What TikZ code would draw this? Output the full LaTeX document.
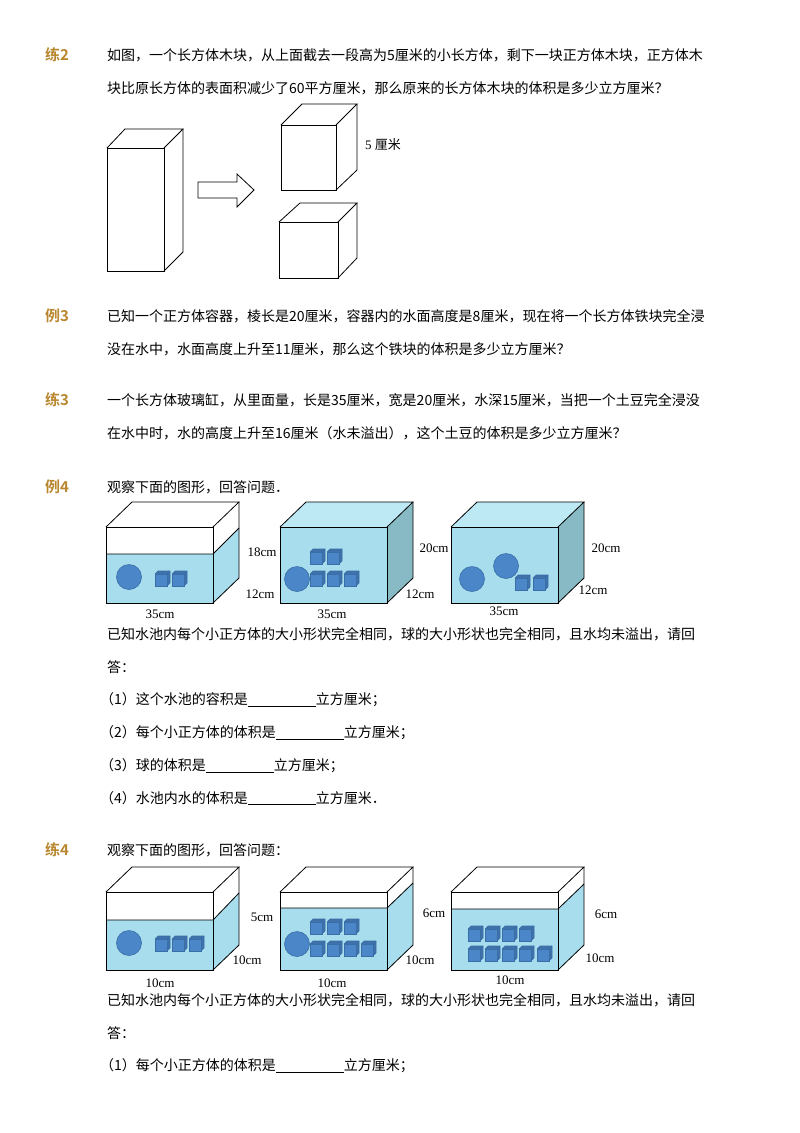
\documentclass[tikz,border=0pt]{standalone}
\usepackage{fontspec}
\setmainfont{Liberation Serif}
\newfontfamily\cjk{Noto Sans CJK SC}
\newfontfamily\cjkb{Noto Sans CJK SC}[BoldFont={* Bold}]
\definecolor{hdr}{HTML}{B8872E}
\definecolor{wfront}{HTML}{A8DDEE}
\definecolor{wtop}{HTML}{BDE9F5}
\definecolor{wside}{HTML}{88BAC6}
\definecolor{ballc}{HTML}{4A86C8}
\definecolor{balle}{HTML}{3A6EA6}
\newcommand{\blank}{\underline{\hspace{68pt}}}
\newcommand{\mytank}[5]{%
  \fill[wfront] (#1,#4) rectangle (#1+107,#3);
  \fill[wfront] (#1+107,#4) -- (#1+133,#5) -- (#1+133,#3-25) -- (#1+107,#3) -- cycle;
  \draw[thick] (#1,#4) -- (#1+107,#4) -- (#1+133,#5);
  \draw[thick] (#1,#2) rectangle (#1+107,#3);
  \draw[thick] (#1,#2) -- (#1+26,#2-25) -- (#1+133,#2-25) -- (#1+107,#2);
  \draw[thick] (#1+133,#2-25) -- (#1+133,#3-25) -- (#1+107,#3);
}
\newcommand{\fulltank}[3]{%
  \fill[wfront] (#1,#2) rectangle (#1+107,#3);
  \fill[wtop] (#1,#2) -- (#1+26,#2-25) -- (#1+133,#2-25) -- (#1+107,#2) -- cycle;
  \fill[wside] (#1+107,#2) -- (#1+133,#2-25) -- (#1+133,#3-25) -- (#1+107,#3) -- cycle;
  \draw[thick] (#1,#2) rectangle (#1+107,#3);
  \draw[thick] (#1,#2) -- (#1+26,#2-25) -- (#1+133,#2-25) -- (#1+107,#2);
  \draw[thick] (#1+133,#2-25) -- (#1+133,#3-25) -- (#1+107,#3);
}
\newcommand{\scube}[2]{%
  \fill[ballc!85!black] (#1-6,#2-6) -- (#1-3,#2-9) -- (#1+9,#2-9) -- (#1+9,#2+3) -- (#1+6,#2+6) -- (#1+6,#2-6) -- cycle;
  \draw[balle,line width=0.6pt] (#1-6,#2-6) -- (#1-3,#2-9) -- (#1+9,#2-9) -- (#1+9,#2+3) -- (#1+6,#2+6);
  \draw[balle,line width=0.6pt] (#1+6,#2-6) -- (#1+9,#2-9);
  \filldraw[fill=ballc,draw=balle,line width=0.6pt] (#1-6,#2-6) rectangle (#1+6,#2+6);
}
\newcommand{\ball}[2]{\filldraw[fill=ballc,draw=balle,line width=0.6pt] (#1,#2) circle (12.5);}
\begin{document}
\begin{tikzpicture}[x=1pt,y=-1pt,
  txt/.style={anchor=west,inner sep=0,font=\cjk\fontsize{14}{14}\selectfont},
  hd/.style={anchor=west,inner sep=0,text=hdr,font=\cjkb\bfseries\fontsize{15}{15}\selectfont},
  lab/.style={inner sep=0,font=\fontsize{13}{13}\selectfont},
  box/.style={thick}]
\useasboundingbox[fill=white] (0,0) rectangle (800,1133);
\node[hd] (h1) at (45,55) {练2};
\node[txt] (t1a) at (107,55) {如图，一个长方体木块，从上面截去一段高为5厘米的小长方体，剩下一块正方体木块，正方体木};
\node[txt] (t1b) at (107,88) {块比原长方体的表面积减少了60平方厘米，那么原来的长方体木块的体积是多少立方厘米？};
\draw[box] (107,148) rectangle (164,271);
\draw[box] (107,148) -- (125,129) -- (183,129) -- (164,148);
\draw[box] (183,129) -- (183,252) -- (164,271);
\draw[box,line width=0.8pt] (198,182) -- (237,182) -- (237,174) -- (254,190) -- (237,207) -- (237,198) -- (198,198) -- cycle;
\draw[box] (281,125) rectangle (336,190);
\draw[box] (281,125) -- (302,104) -- (357,104) -- (336,125);
\draw[box] (357,104) -- (357,170) -- (336,190);
\node[inner sep=0,anchor=west,font=\fontsize{13}{13}\selectfont] (l5) at (365,145) {5 {\cjk 厘米}};
\draw[box] (279,222) rectangle (338,278);
\draw[box] (279,222) -- (300,203) -- (357,203) -- (338,222);
\draw[box] (357,203) -- (357,258) -- (338,278);
\node[hd] (h2) at (45,316) {例3};
\node[txt] (t2a) at (107,316) {已知一个正方体容器，棱长是20厘米，容器内的水面高度是8厘米，现在将一个长方体铁块完全浸};
\node[txt] (t2b) at (107,349) {没在水中，水面高度上升至11厘米，那么这个铁块的体积是多少立方厘米？};
\node[hd] (h3) at (45,400) {练3};
\node[txt] (t3a) at (107,400) {一个长方体玻璃缸，从里面量，长是35厘米，宽是20厘米，水深15厘米，当把一个土豆完全浸没};
\node[txt] (t3b) at (107,433) {在水中时，水的高度上升至16厘米（水未溢出），这个土豆的体积是多少立方厘米？};
\node[hd] (h4) at (45,487) {例4};
\node[txt] (t4a) at (107,487) {观察下面的图形，回答问题．};
\mytank{106}{527}{603}{554}{528}
\ball{129}{577}
\scube{161}{580} \scube{178}{580}
\node[lab] (a1) at (262,552) {18cm};
\node[lab] (a2) at (260,594) {12cm};
\node[lab] (a3) at (160,614) {35cm};
\fulltank{280}{527}{603}
\ball{297}{579}
\scube{316}{558} \scube{333}{558}
\scube{316}{580} \scube{333}{580} \scube{350}{580}
\node[lab] (b1) at (434,548) {20cm};
\node[lab] (b2) at (420,594) {12cm};
\node[lab] (b3) at (332,614) {35cm};
\fulltank{451}{527}{603}
\ball{472}{579} \ball{506}{566}
\scube{521}{584} \scube{539}{584}
\node[lab] (c1) at (606,548) {20cm};
\node[lab] (c2) at (593,590) {12cm};
\node[lab] (c3) at (504,611) {35cm};
\node[txt] (t4b) at (107,634) {已知水池内每个小正方体的大小形状完全相同，球的大小形状也完全相同，且水均未溢出，请回};
\node[txt] (t4c) at (107,667) {答：};
\node[txt] (q1) at (100,700) {（1）这个水池的容积是\blank 立方厘米；};
\node[txt] (q2) at (100,733) {（2）每个小正方体的体积是\blank 立方厘米；};
\node[txt] (q3) at (100,766) {（3）球的体积是\blank 立方厘米；};
\node[txt] (q4) at (100,798) {（4）水池内水的体积是\blank 立方厘米．};
\node[hd] (h5) at (45,850) {练4};
\node[txt] (t5a) at (107,850) {观察下面的图形，回答问题：};
\mytank{106}{892}{970}{920}{893}
\ball{129}{943}
\scube{161}{945} \scube{178}{945} \scube{195}{945}
\node[lab] (d1) at (262,917) {5cm};
\node[lab] (d2) at (247,960) {10cm};
\node[lab] (d3) at (160,983) {10cm};
\mytank{280}{892}{970}{908}{883}
\ball{297}{944}
\scube{316}{928} \scube{333}{928} \scube{350}{928}
\scube{316}{950} \scube{333}{950} \scube{350}{950} \scube{367}{950}
\node[lab] (e1) at (434,913) {6cm};
\node[lab] (e2) at (420,960) {10cm};
\node[lab] (e3) at (332,983) {10cm};
\mytank{451}{892}{970}{909}{884}
\scube{474}{935} \scube{491}{935} \scube{508}{935} \scube{525}{935}
\scube{474}{955} \scube{491}{955} \scube{508}{955} \scube{525}{955} \scube{543}{955}
\node[lab] (f1) at (606,914) {6cm};
\node[lab] (f2) at (600,958) {10cm};
\node[lab] (f3) at (510,980) {10cm};
\node[txt] (t5b) at (107,1000) {已知水池内每个小正方体的大小形状完全相同，球的大小形状也完全相同，且水均未溢出，请回};
\node[txt] (t5c) at (107,1033) {答：};
\node[txt] (r1) at (100,1066) {（1）每个小正方体的体积是\blank 立方厘米；};
\end{tikzpicture}
\end{document}
